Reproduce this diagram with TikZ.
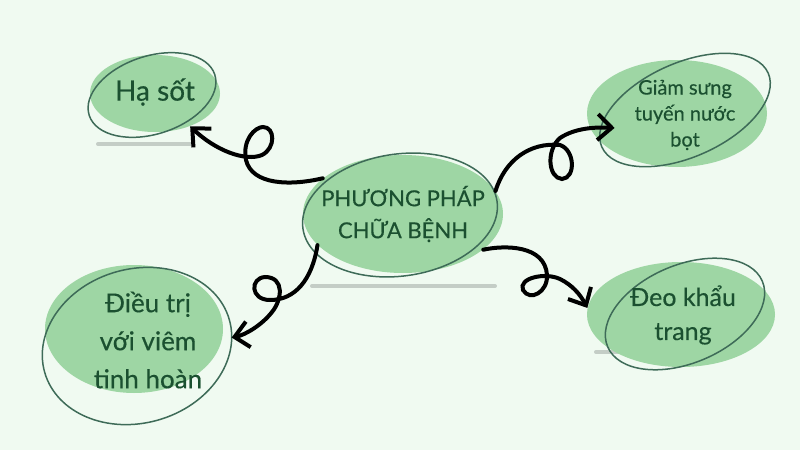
\documentclass[tikz,border=0pt]{standalone}
\usepackage{fontspec}
\setmainfont{Lato}[FakeBold=0.4]
\usepackage{tikz}
\usetikzlibrary{shapes.geometric}
\usetikzlibrary{arrows.meta}
\usetikzlibrary{calc}
\definecolor{mint}{HTML}{F0FAF1}
\definecolor{leaf}{HTML}{9ED6A4}
\definecolor{ringgreen}{HTML}{3E6B58}
\definecolor{inkgreen}{HTML}{1B5030}
\definecolor{shade}{HTML}{C4CDC6}

\begin{document}
\begin{tikzpicture}[x=0.5pt, y=0.5pt,
    blob/.style={ellipse, fill=leaf, inner sep=0pt},
    ring/.style={draw=ringgreen, line width=0.75pt},
    txt/.style={text=inkgreen, align=center, inner sep=0pt},
    shadowline/.style={draw=shade, line width=2pt, line cap=round},
    curly/.style={line width=2pt, line cap=round, -{Straight Barb[length=7pt, width=13pt]}}]

    \fill[mint] (0,0) rectangle (800,-450);
    \useasboundingbox (0,0) rectangle (800,-450);

    \draw[shadowline] (98,-144) -- (193,-144);
    \draw[shadowline] (312,-286) -- (495,-286);
    \draw[shadowline] (596,-352) -- (700,-352);

    \node[blob, minimum width=65pt,  minimum height=38.5pt] at (155,-93.5)  (HaSot)    {};
    \node[blob, minimum width=100pt, minimum height=59pt]   at (403,-214)   (Center)   {};
    \node[blob, minimum width=90pt,  minimum height=53.5pt] at (677,-113.5) (GiamSung) {};
    \node[blob, minimum width=94pt,  minimum height=52.5pt] at (681,-314.5) (DeoKhau)  {};
    \node[blob, minimum width=89pt,  minimum height=64pt]   at (134,-329)   (DieuTri)  {};

    \draw[ring, rotate around={18:(152,-95)}]  (152,-95)  ellipse [x radius=66, y radius=39];
    \draw[ring, rotate around={8:(400,-215)}]  (400,-215) ellipse [x radius=98, y radius=61];
    \draw[ring, rotate around={24:(685,-110)}] (685,-110) ellipse [x radius=91, y radius=47];
    \draw[ring, rotate around={23:(685,-314)}] (685,-314) ellipse [x radius=84, y radius=49];
    \draw[ring, rotate around={16:(137,-346)}] (137,-346) ellipse [x radius=96, y radius=77];

    \node[txt, font=\fontsize{14}{17}\selectfont]   at (155,-92)  (HaSotText)    {Hạ sốt};
    \node[txt, font=\fontsize{11}{16}\selectfont]   at (403,-214) (CenterText)   {PHƯƠNG PHÁP\\CHỮA BỆNH};
    \node[txt, font=\fontsize{10}{13}\selectfont]   at (685,-115) (GiamSungText) {Giảm sưng\\tuyến nước\\bọt};
    \node[txt, font=\fontsize{12.5}{17}\selectfont] at (683,-315) (DeoKhauText)  {Đeo khẩu\\trang};
    \node[txt, font=\fontsize{13}{19}\selectfont]   at (148,-340) (DieuTriText)  {Điều trị\\với viêm\\tinh hoàn};

    % loopy connectors
    \draw[curly] (Center.156) .. controls (290,-186) and (252,-185) .. (246,-160)
        .. controls (242,-140) and (255,-127) .. (263,-127)
        .. controls (275,-127) and (276,-148) .. (262,-155)
        .. controls (245,-162) and (215,-150) .. (HaSot.-43);
    \draw[curly] (Center.14) .. controls (505,-160) and (530,-142) .. (560,-145)
        .. controls (575,-150) and (576,-178) .. (562,-179)
        .. controls (548,-178) and (546,-150) .. (560,-138)
        .. controls (575,-128) and (595,-127) .. ($(GiamSung.center)!.74!(GiamSung.193)$);
    \draw[curly] (Center.-24) .. controls (505,-245) and (545,-245) .. (547,-275)
        .. controls (548,-292) and (530,-302) .. (523,-290)
        .. controls (518,-278) and (545,-272) .. (560,-279)
        .. controls (572,-285) and (580,-294) .. (DeoKhau.176);
    \draw[curly] (Center.200) .. controls (312,-280) and (295,-300) .. (270,-300)
        .. controls (250,-300) and (250,-278) .. (265,-277)
        .. controls (285,-277) and (282,-300) .. (272,-312)
        .. controls (262,-325) and (245,-335) .. ($(DieuTri.center)!1.1!(DieuTri.-5)$);
\end{tikzpicture}
\end{document}
